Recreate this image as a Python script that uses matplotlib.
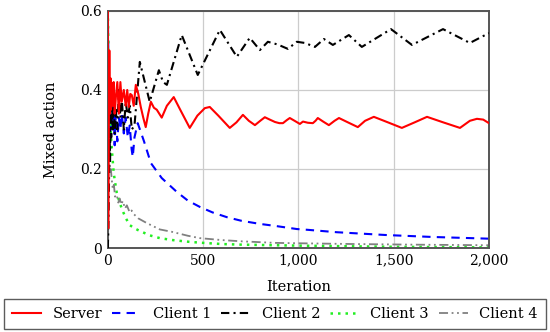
import matplotlib
matplotlib.use("Agg")
import matplotlib.pyplot as plt
from matplotlib.ticker import FuncFormatter

plt.rcParams['font.family'] = ['DejaVu Serif']

# Server
server_it = [0, 2, 5, 8, 11, 14, 17, 21, 26, 31, 36, 42, 50, 58, 66, 73, 84, 94, 102, 110,
             118, 126, 136, 147, 160, 173, 186, 199, 212, 226, 242, 257, 270, 283, 310, 346,
             380, 430, 470, 509, 535, 580, 640, 675, 709, 740, 772, 800, 824, 850, 877, 900,
             919, 940, 955, 980, 1008, 1024, 1050, 1076, 1090, 1102, 1130, 1160, 1190, 1213,
             1260, 1312, 1350, 1396, 1470, 1543, 1610, 1675, 1760, 1848, 1900, 1937, 1970, 2000]
server_val = [0.6, 0.05, 0.3, 0.5, 0.34, 0.43, 0.35, 0.418, 0.36, 0.42, 0.34, 0.38, 0.42, 0.34,
              0.42, 0.37, 0.4, 0.36, 0.4, 0.357, 0.39, 0.387, 0.36, 0.413, 0.39, 0.357, 0.33,
              0.306, 0.34, 0.37, 0.355, 0.35, 0.34, 0.33, 0.36, 0.382, 0.35, 0.304, 0.335, 0.354,
              0.357, 0.335, 0.304, 0.318, 0.337, 0.322, 0.311, 0.322, 0.331, 0.325, 0.319, 0.316,
              0.316, 0.324, 0.329, 0.322, 0.314, 0.32, 0.317, 0.316, 0.322, 0.329, 0.32, 0.311,
              0.322, 0.329, 0.318, 0.306, 0.322, 0.332, 0.318, 0.304, 0.318, 0.332, 0.318, 0.304,
              0.322, 0.327, 0.325, 0.316]

# Client 1
c1_it = [0, 4, 8, 12, 16, 20, 25, 30, 36, 42, 50, 58, 66, 73, 84, 94, 105, 115, 125, 131,
         140, 157, 190, 226, 283, 310, 362, 420, 483, 550, 625, 700, 798, 877, 992, 1050,
         1200, 1454, 1700, 2000]
c1_val = [0.6, 0.45, 0.3, 0.4, 0.28, 0.38, 0.3, 0.36, 0.26, 0.34, 0.27, 0.33, 0.3, 0.34,
          0.29, 0.33, 0.28, 0.31, 0.25, 0.23, 0.28, 0.316, 0.27, 0.215, 0.177, 0.165, 0.142,
          0.12, 0.104, 0.09, 0.078, 0.069, 0.061, 0.056, 0.048, 0.046, 0.04, 0.033, 0.028,
          0.0236]

# Client 2
c2_it = [0, 3, 6, 9, 12, 15, 18, 22, 26, 31, 36, 42, 50, 58, 66, 73, 84, 94, 105, 115, 126,
         140, 168, 220, 268, 290, 310, 388, 472, 588, 677, 745, 798, 840, 892, 945, 992, 1034,
         1087, 1134, 1181, 1265, 1333, 1486, 1596, 1759, 1900, 2000]
c2_val = [0.0, 0.05, 0.15, 0.3, 0.22, 0.35, 0.28, 0.38, 0.3, 0.36, 0.29, 0.35, 0.3, 0.4, 0.33,
          0.38, 0.3, 0.37, 0.33, 0.36, 0.3, 0.31, 0.471, 0.37, 0.45, 0.42, 0.413, 0.539, 0.438,
          0.552, 0.484, 0.532, 0.501, 0.522, 0.515, 0.504, 0.522, 0.519, 0.509, 0.529, 0.514,
          0.539, 0.509, 0.554, 0.514, 0.554, 0.519, 0.544]

# Client 3
c3_it = [0, 5, 10, 15, 21, 31, 37, 47, 58, 73, 94, 115, 140, 160, 220, 273, 341, 420, 483,
         600, 700, 1000, 1500, 2000]
c3_val = [0.6, 0.45, 0.36, 0.3, 0.25, 0.19, 0.17, 0.14, 0.122, 0.1, 0.076, 0.058, 0.05, 0.045,
          0.032, 0.025, 0.02, 0.016, 0.0135, 0.01, 0.0085, 0.006, 0.003, 0.0015]

# Client 4
c4_it = [0, 3, 6, 9, 12, 16, 21, 26, 32, 38, 47, 55, 63, 70, 79, 90, 100, 115, 125, 136, 160,
         205, 273, 336, 420, 483, 600, 700, 877, 1000, 1300, 1600, 2000]
c4_val = [0.2, 0.28, 0.22, 0.25, 0.19, 0.2, 0.172, 0.15, 0.16, 0.13, 0.135, 0.115, 0.125, 0.11,
          0.119, 0.1, 0.108, 0.09, 0.095, 0.086, 0.075, 0.063, 0.047, 0.041, 0.031, 0.025, 0.02,
          0.017, 0.013, 0.012, 0.01, 0.0085, 0.007]

fig = plt.figure(figsize=(5.5, 3.32), dpi=100)
ax = fig.add_axes([0.196, 0.253, 0.693, 0.714])

ax.plot(server_it, server_val, color='#ff0000', lw=1.5, label='Server', zorder=5)
ax.plot(c1_it, c1_val, color='#0000ff', lw=1.5, ls=(0, (4, 3)), label='Client 1')
ax.plot(c2_it, c2_val, color='black', lw=1.5, ls=(0, (4, 2, 1, 2)), label='Client 2', zorder=4)
ax.plot(c3_it, c3_val, color='#22ee22', lw=1.8, ls=(0, (1, 2)), label='Client 3')
ax.plot(c4_it, c4_val, color='#808080', lw=1.3, ls=(0, (5, 2, 1, 2, 1, 2)), label='Client 4')

ax.set_xlim(0, 2000)
ax.set_ylim(0, 0.6)
ax.set_xticks([0, 500, 1000, 1500, 2000])
ax.set_yticks([0, 0.2, 0.4, 0.6])
ax.xaxis.set_major_formatter(FuncFormatter(lambda v, p: f"{int(v):,}"))
ax.yaxis.set_major_formatter(FuncFormatter(lambda v, p: "0" if v == 0 else f"{v:.1f}"))
ax.tick_params(length=0, labelsize=10, pad=4)
ax.grid(True, color='#cccccc', lw=0.9)
ax.set_axisbelow(True)
for s in ax.spines.values():
    s.set_color('#555555')
    s.set_linewidth(1.4)

ax.set_xlabel('Iteration', fontsize=10.5, labelpad=9)
ax.set_ylabel('Mixed action', fontsize=10.5, labelpad=16)

leg = fig.legend(loc='lower left', bbox_to_anchor=(4/550, 3/332, 542/550, 29/332),
                 mode='expand', ncol=5, fontsize=10.5, frameon=True, fancybox=False,
                 handlelength=2.0, handletextpad=0.8, borderaxespad=0, borderpad=0.55,
                 columnspacing=0.8)
leg.get_frame().set_edgecolor('#333333')
leg.get_frame().set_linewidth(1.0)

fig.savefig('out.png', dpi=100)
